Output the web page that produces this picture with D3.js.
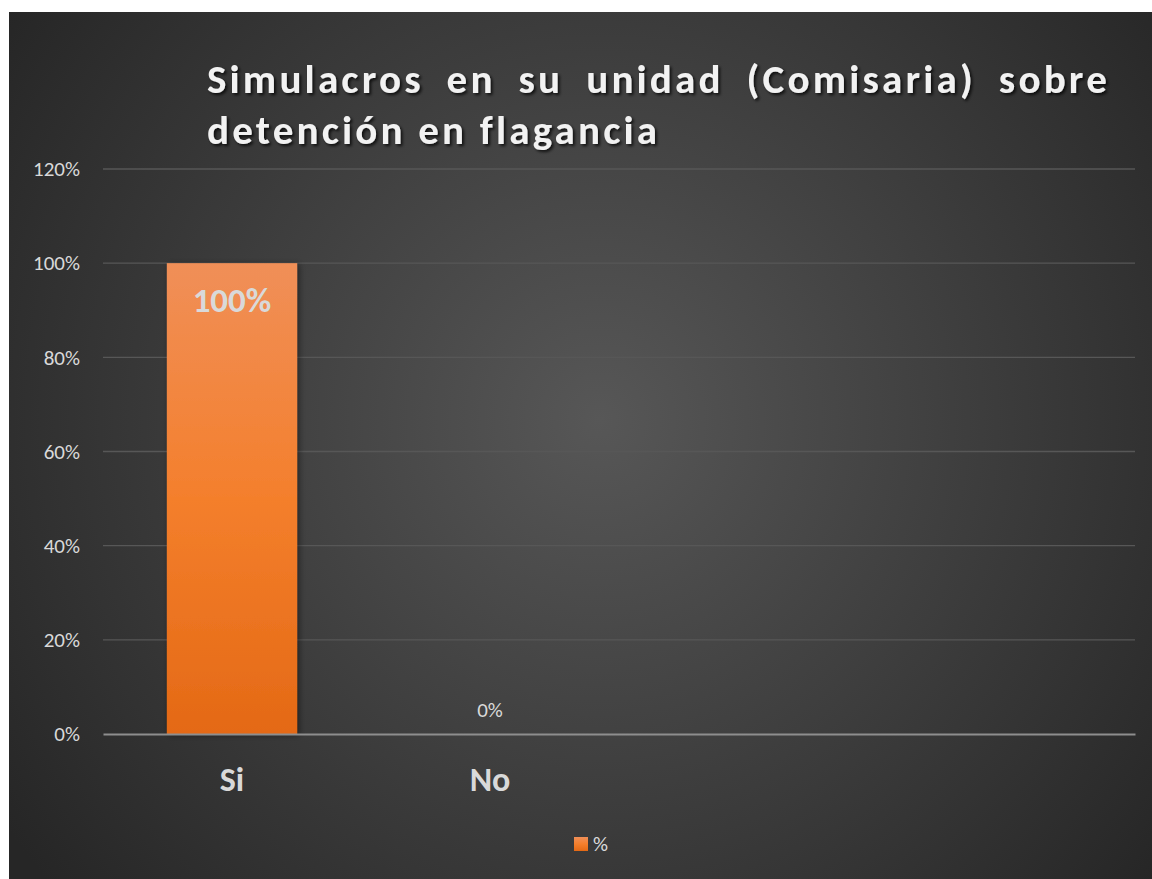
<!DOCTYPE html>
<html>
<head>
<meta charset="utf-8">
<script src="https://cdn.jsdelivr.net/npm/d3@7"></script>
<style>
  body { margin: 0; background: #fff; }
  svg { display: block; }
  text { font-family: Carlito, Lato, sans-serif; }
</style>
</head>
<body>
<svg id="chart" width="1152" height="879"></svg>
<script>
// chart data
var titleLines = ["Simulacros en su unidad (Comisaria) sobre", "detención en flagancia"];
var categories = ["Si", "No", "", ""];
var values = [1.0, 0.0, null, null];
var yTicks = [0, 0.2, 0.4, 0.6, 0.8, 1.0, 1.2];
var seriesName = "%";

var svg = d3.select("#chart");
var defs = svg.append("defs");

var bg = defs.append("radialGradient").attr("id", "bg")
  .attr("gradientUnits", "userSpaceOnUse")
  .attr("cx", 600).attr("cy", 420).attr("r", 720);
bg.append("stop").attr("offset", "0%").attr("stop-color", "#575757");
bg.append("stop").attr("offset", "100%").attr("stop-color", "#262626");

var barGrad = defs.append("linearGradient").attr("id", "barGrad")
  .attr("x1", 0).attr("y1", 0).attr("x2", 0).attr("y2", 1);
barGrad.append("stop").attr("offset", "0%").attr("stop-color", "#f08f58");
barGrad.append("stop").attr("offset", "50%").attr("stop-color", "#f47f2c");
barGrad.append("stop").attr("offset", "100%").attr("stop-color", "#e46915");

var ts = defs.append("filter").attr("id", "tshadow")
  .attr("x", "-10%").attr("y", "-30%").attr("width", "120%").attr("height", "160%");
ts.append("feDropShadow").attr("dx", 2).attr("dy", 2).attr("stdDeviation", 1.5)
  .attr("flood-color", "#000").attr("flood-opacity", 0.75);

var bs = defs.append("filter").attr("id", "bshadow")
  .attr("x", "-20%").attr("y", "-10%").attr("width", "140%").attr("height", "120%");
bs.append("feDropShadow").attr("dx", 2).attr("dy", 1).attr("stdDeviation", 3)
  .attr("flood-color", "#000").attr("flood-opacity", 0.45);

// panel
svg.append("rect")
  .attr("x", 9).attr("y", 12)
  .attr("width", 1160).attr("height", 880)
  .attr("fill", "url(#bg)");

var plotLeft = 103, plotRight = 1135, plotTop = 169, plotBottom = 734;

var x = d3.scaleBand()
  .domain(d3.range(categories.length))
  .range([plotLeft, plotRight])
  .padding(0);

var y = d3.scaleLinear()
  .domain([0, 1.2])
  .range([plotBottom, plotTop]);

var pct = d3.format(".0%");

// gridlines
svg.append("g")
  .selectAll("line")
  .data(yTicks.filter(function(d) { return d > 0; }))
  .join("line")
  .attr("x1", plotLeft).attr("x2", plotRight)
  .attr("y1", function(d) { return y(d); })
  .attr("y2", function(d) { return y(d); })
  .attr("stroke", "#575757")
  .attr("stroke-width", 1.3);

// y axis labels
var yAxis = svg.append("g")
  .attr("transform", "translate(" + plotLeft + ",0)")
  .call(d3.axisLeft(y).tickValues(yTicks).tickFormat(pct).tickSize(0).tickPadding(23));
yAxis.select(".domain").remove();
yAxis.selectAll("text")
  .attr("fill", "#d9d9d9")
  .style("font-size", "21px")
  .style("font-family", "Carlito, Lato, sans-serif");

// bars
var barW = x.bandwidth() / 1.98;
svg.append("g")
  .selectAll("rect")
  .data(values.map(function(v, i) { return {i: i, v: v}; }).filter(function(d) { return d.v; }))
  .join("rect")
  .attr("x", function(d) { return x(d.i) + (x.bandwidth() - barW) / 2; })
  .attr("width", barW)
  .attr("y", function(d) { return y(d.v); })
  .attr("height", function(d) { return y(0) - y(d.v); })
  .attr("fill", "url(#barGrad)")
  .attr("filter", "url(#bshadow)");

// x axis
var xAxis = svg.append("g")
  .attr("transform", "translate(0," + plotBottom + ")")
  .call(d3.axisBottom(x).tickFormat(function(i) { return categories[i]; }).tickSize(0).tickPadding(33));
xAxis.select(".domain")
  .attr("stroke", "#8e8e8e")
  .attr("stroke-width", 2);
xAxis.selectAll("text")
  .attr("fill", "#d9d9d9")
  .style("font-size", "34px")
  .style("font-weight", "bold")
  .style("font-family", "Carlito, Lato, sans-serif");

// data labels
values.forEach(function(v, i) {
  if (v === null) return;
  if (v > 0) {
    svg.append("text")
      .attr("x", x(i) + x.bandwidth() / 2)
      .attr("y", y(v) + 49)
      .attr("text-anchor", "middle")
      .attr("fill", "#d9d9d9")
      .style("font-size", "35px")
      .style("font-weight", "bold")
      .text(pct(v));
  } else {
    svg.append("text")
      .attr("x", x(i) + x.bandwidth() / 2)
      .attr("y", y(v) - 17)
      .attr("text-anchor", "middle")
      .attr("fill", "#d9d9d9")
      .style("font-size", "21px")
      .text(pct(v));
  }
});

// title: second line sets the letter spacing, first line is justified
var tx0 = 207, tx1 = 1110, line2End = 660;
var title = svg.append("g").attr("filter", "url(#tshadow)");
var tnodes = titleLines.map(function(line, li) {
  return title.append("text")
    .attr("x", tx0)
    .attr("y", 93 + li * 51)
    .attr("fill", "#f2f2f2")
    .style("font-size", "41px")
    .style("font-weight", "bold")
    .text(line);
});
var last = titleLines[1];
var ls = (line2End - tx0 - tnodes[1].node().getComputedTextLength()) / last.length;
tnodes.forEach(function(t) { t.style("letter-spacing", ls + "px"); });
var w1 = tnodes[0].node().getComputedTextLength();
var gaps = titleLines[0].split(" ").length - 1;
tnodes[0].style("word-spacing", ((tx1 - tx0 - w1) / gaps) + "px");

// legend
var legend = svg.append("g").attr("transform", "translate(574,837)");
legend.append("rect")
  .attr("width", 14).attr("height", 14)
  .attr("fill", "url(#barGrad)");
legend.append("text")
  .attr("x", 19).attr("y", 14)
  .attr("fill", "#d9d9d9")
  .style("font-size", "21px")
  .text(seriesName);
</script>
</body>
</html>
